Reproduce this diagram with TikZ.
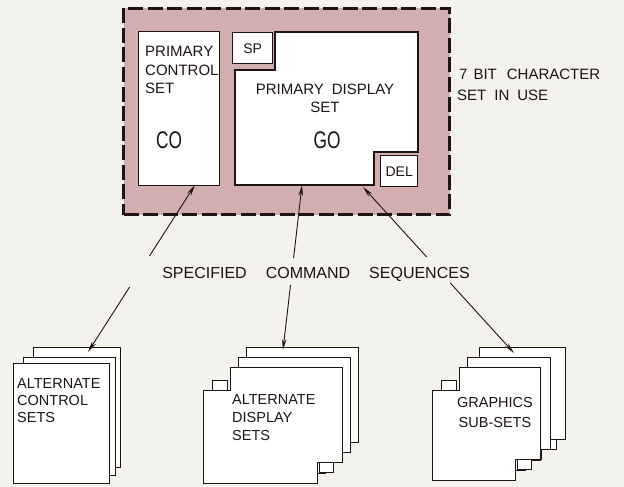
\documentclass[tikz,border=0pt]{standalone}
\usepackage{fontspec}
\setmainfont{Liberation Sans}
\usepackage{graphicx}
\usetikzlibrary{arrows.meta,calc}
\definecolor{bgpaper}{RGB}{244,242,237}
\definecolor{pinkfill}{RGB}{210,174,174}
\definecolor{ink}{RGB}{30,20,20}
% front sheet with SP and DEL notches: L T W H
\newcommand\dispsheet[4]{%
\begin{scope}[shift={(#1,#2)}]
\draw[sheet] (0,23) -- (27,23) -- (27,0) -- (#3,0) -- (#3,#4-21) -- (#3-25,#4-21) -- (#3-25,#4) -- (0,#4) -- cycle;
\draw[sheet] (9,13) rectangle (24,23);
\draw[sheet] (#3-23,#4-21) rectangle (#3-9,#4-11);
\end{scope}}
% sheet behind: L T W H notchdepth (its lower-left part is hidden)
\newcommand\backsheet[5]{%
\begin{scope}[shift={(#1,#2)}]
\draw[sheet] (0,#5) -- (27,#5) -- (27,0) -- (#3,0) -- (#3,#4-21) -- (#3-25,#4-21) -- (#3-25,#4) -- (0,#4) -- cycle;
\draw[sheet] (#3-23,#4-21) rectangle (#3-9,#4-11);
\end{scope}}
\begin{document}
\begin{tikzpicture}[x=1pt,y=-1pt,
  lbl/.style={font=\fontsize{15}{18}\selectfont, inner sep=0pt, text=ink},
  slbl/.style={font=\fontsize{14.5}{17}\selectfont, inner sep=0pt, text=ink},
  box/.style={draw=ink, line width=1.4pt, fill=white},
  sheet/.style={draw=ink, line width=1pt, fill=white},
  conn/.style={draw=ink, line width=0.9pt},
  tip/.style={-{Stealth[length=11pt,width=4.5pt]}}]
\path[use as bounding box, fill=bgpaper] (0,0) rectangle (624,487);

% outer dashed area
\node[draw=ink, line width=3pt, dash pattern=on 15pt off 4.5pt, fill=pinkfill,
  minimum width=326pt, minimum height=206pt, inner sep=0pt, anchor=north west] (outer) at (122,7) {};

% primary control set
\node[box, minimum width=81pt, minimum height=154pt, inner sep=0pt, anchor=north west] (ctrl) at (138,31) {};
\node[lbl, anchor=base west] (pc1) at (145,57) {PRIMARY};
\node[lbl, anchor=base west] (pc2) at (145,75) {CONTROL};
\node[lbl, anchor=base west] (pc3) at (145,93) {SET};
\node[inner sep=0pt, text=ink] (co) at (169,140) {\scalebox{0.72}[1]{\fontsize{24}{24}\selectfont CO}};

% primary display set
\draw[box] (235,70) -- (275,70) -- (275,32) -- (418,32) -- (418,152) -- (374,152) -- (374,185) -- (235,185) -- cycle;
\node[box, minimum width=40pt, minimum height=31pt, inner sep=0pt, anchor=north west] (spbox) at (232,32) {};
\node[lbl, font=\fontsize{14}{16}\selectfont] (sp) at (spbox.center) {SP};
\node[box, minimum width=37pt, minimum height=31pt, inner sep=0pt, anchor=north west] (delbox) at (380,155) {};
\node[lbl, font=\fontsize{14}{16}\selectfont] (del) at (delbox.center) {DEL};
\node[lbl, anchor=base] (pd1) at (325,95) {PRIMARY\hspace{8pt}DISPLAY};
\node[lbl, anchor=base] (pd2) at (325,113) {SET};
\node[inner sep=0pt, text=ink] (go) at (327,140) {\scalebox{0.72}[1]{\fontsize{24}{24}\selectfont GO}};

% side label
\node[lbl, anchor=base west] (bit1) at (459,80) {7\hspace{6pt}BIT\hspace{10pt}CHARACTER};
\node[lbl, anchor=base west] (bit2) at (457,100) {SET\hspace{8pt}IN\hspace{8pt}USE};

% alternate control sets stack
\node[sheet, minimum width=87pt, minimum height=120pt, inner sep=0pt, anchor=north west] (cs3) at (33,347) {};
\node[sheet, minimum width=92pt, minimum height=118pt, inner sep=0pt, anchor=north west] (cs2) at (23,357) {};
\node[sheet, minimum width=96pt, minimum height=120pt, inner sep=0pt, anchor=north west] (cs1) at (13,363) {};
\node[slbl, anchor=base west] (ac1) at (17,388) {ALTERNATE};
\node[slbl, anchor=base west] (ac2) at (17,405) {CONTROL};
\node[slbl, anchor=base west] (ac3) at (17,422) {SETS};

% alternate display sets stack
\backsheet{219}{347}{139}{116}{45}
\backsheet{211}{357}{139}{116}{35}
\dispsheet{203}{367}{139}{116}
\node[slbl, anchor=base west] (ad1) at (232,404) {ALTERNATE};
\node[slbl, anchor=base west] (ad2) at (232,422) {DISPLAY};
\node[slbl, anchor=base west] (ad3) at (232,440) {SETS};

% graphics sub-sets stack
\backsheet{452}{347}{113}{113}{45}
\backsheet{440}{357}{110}{113}{35}
\dispsheet{432}{367}{108}{113}
\node[slbl, anchor=base] (g1) at (495,407) {GRAPHICS};
\node[slbl, anchor=base] (g2) at (495,427) {SUB-SETS};

% label
\node[lbl, font=\fontsize{16}{19}\selectfont, anchor=base] (spec) at (316,278) {SPECIFIED\hspace{19pt}COMMAND\hspace{19pt}SEQUENCES};

% arrow ends
\coordinate (a1u) at (195,185);
\coordinate (a2u) at (302,185);
\coordinate (a3u) at (363,187);
\coordinate (a1l) at (88,352);
\coordinate (a2l) at (283,350);
\coordinate (a3l) at (514,353);
\coordinate (b1u) at (149.5,256);
\coordinate (b1l) at (129.6,287);
\coordinate (b2u) at (293.6,258);
\coordinate (b2l) at (290.5,285);
\coordinate (b3u) at (426.7,257);
\coordinate (b3l) at (450.3,283);
\draw[conn,tip] (b1u) -- (a1u);
\draw[conn,tip] (b1l) -- (a1l);
\draw[conn,tip] (b2u) -- (a2u);
\draw[conn,tip] (b2l) -- (a2l);
\draw[conn,tip] (b3u) -- (a3u);
\draw[conn,tip] (b3l) -- (a3l);
\end{tikzpicture}
\end{document}
